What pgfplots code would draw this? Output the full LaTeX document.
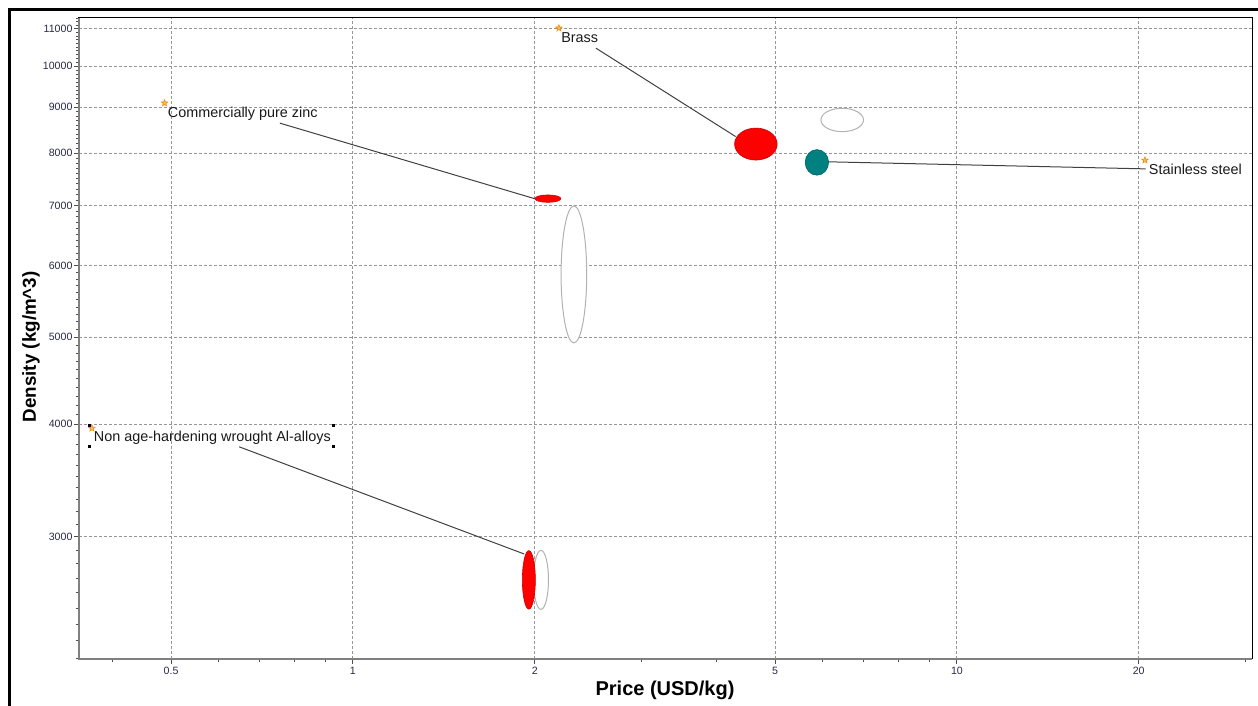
\documentclass[border=0pt]{standalone}
\usepackage{fontspec}
\setmainfont{Liberation Sans}
\usepackage{pgfplots}
\pgfplotsset{compat=1.18}
\definecolor{tickcol}{RGB}{40,40,70}
\definecolor{gridcol}{RGB}{150,150,150}
\definecolor{tealc}{RGB}{0,128,128}
\definecolor{starfill}{RGB}{250,190,90}
\definecolor{stardraw}{RGB}{235,140,20}

\def\rx{3}\def\ry{3}
\pgfdeclareplotmark{ellip}{%
  \pgfpathellipse{\pgfpointorigin}{\pgfqpoint{\rx pt}{0pt}}{\pgfqpoint{0pt}{\ry pt}}%
  \pgfusepathqfillstroke}
\pgfdeclareplotmark{fstar}{%
  \pgfpathmoveto{\pgfpointpolar{90}{\pgfplotmarksize}}%
  \pgfpathlineto{\pgfpointpolar{126}{0.42\pgfplotmarksize}}%
  \pgfpathlineto{\pgfpointpolar{162}{\pgfplotmarksize}}%
  \pgfpathlineto{\pgfpointpolar{198}{0.42\pgfplotmarksize}}%
  \pgfpathlineto{\pgfpointpolar{234}{\pgfplotmarksize}}%
  \pgfpathlineto{\pgfpointpolar{270}{0.42\pgfplotmarksize}}%
  \pgfpathlineto{\pgfpointpolar{306}{\pgfplotmarksize}}%
  \pgfpathlineto{\pgfpointpolar{342}{0.42\pgfplotmarksize}}%
  \pgfpathlineto{\pgfpointpolar{18}{\pgfplotmarksize}}%
  \pgfpathlineto{\pgfpointpolar{54}{0.42\pgfplotmarksize}}%
  \pgfpathclose
  \pgfusepathqfillstroke}
\pgfplotsset{
  grayell/.style 2 args={only marks, mark=ellip, mark options={/utils/exec={\def\rx{#1}\def\ry{#2}}, draw=black!30, fill=white, line width=0.5pt}},
  redell/.style 2 args={only marks, mark=ellip, mark options={/utils/exec={\def\rx{#1}\def\ry{#2}}, draw=red!80!black, fill=red, line width=0.3pt}},
  tealell/.style 2 args={only marks, mark=ellip, mark options={/utils/exec={\def\rx{#1}\def\ry{#2}}, draw=tealc!80!black, fill=tealc, line width=0.3pt}},
}

\begin{document}
\begin{tikzpicture}
\useasboundingbox (-39.5pt,-23.5pt) rectangle (589.5pt,329.5pt);
\begin{axis}[
  at={(0,0)}, anchor=south west,
  scale only axis, width=586.5pt, height=320.5pt,
  xmode=log, ymode=log,
  xmin=0.352, xmax=30.8, ymin=2195, ymax=11310,
  xtick={0.5,1,2,5,10,20}, xticklabels={0.5,1,2,5,10,20},
  minor xtick={0.4,0.6,0.7,0.8,0.9,3,4,6,7,8,9,30},
  ytick={3000,4000,5000,6000,7000,8000,9000,10000,11000},
  yticklabels={3000,4000,5000,6000,7000,8000,9000,10000,11000},
  minor ytick={2200,2300,...,11300},
  xtick pos=bottom, ytick pos=left,
  tick align=outside,
  major tick length=2.5pt, minor tick length=1.4pt,
  tick style={draw=black!70, line width=0.45pt},
  xmajorgrids, ymajorgrids,
  grid style={draw=gridcol, line width=0.5pt, dash pattern=on 1.5pt off 1pt},
  axis line style={draw=black, line width=0.5pt},
  ticklabel style={font=\fontsize{5.3}{6}\selectfont, text=tickcol},
  yticklabel style={inner sep=0.6pt},
  xticklabel style={inner sep=1.2pt},
  xlabel={Price (USD/kg)},
  ylabel={Density (kg/m\textasciicircum 3)},
  xlabel style={at={(axis description cs:0.4996,-0.0484)}, anchor=center, font=\fontsize{10}{12}\selectfont\bfseries},
  ylabel style={at={(axis description cs:-0.0409,0.487)}, anchor=center, font=\fontsize{9.4}{11}\selectfont\bfseries},
  clip=false,
]
% gray (unselected) ranges: centre (price, density); radii in pt
\addplot[grayell={3.75}{14.75}] coordinates {(2.048,2687)};
\addplot[grayell={6.4}{34.25}] coordinates {(2.322,5869)};
\addplot[grayell={10.65}{5.85}] coordinates {(6.458,8713)};
% red ranges
\addplot[redell={3.25}{14.65}] coordinates {(1.956,2687)};
\addplot[redell={6.5}{1.85}] coordinates {(2.103,7125)};
\addplot[redell={10.65}{8.0}] coordinates {(4.647,8192)};
% teal range
\addplot[tealell={5.85}{6.4}] coordinates {(5.864,7818)};

% leader lines
\addplot[draw=black!75, line width=0.5pt, no marks] coordinates {(0.757,8642) (2.005,7120)};
\addplot[draw=black!75, line width=0.5pt, no marks] coordinates {(2.525,10470) (4.301,8351)};
\addplot[draw=black!75, line width=0.5pt, no marks] coordinates {(20.53,7689) (6.122,7829)};
\addplot[draw=black!75, line width=0.5pt, no marks] coordinates {(0.6482,3777) (1.921,2871)};

% label anchor stars
\addplot[only marks, mark=fstar, mark size=1.7pt, mark options={fill=starfill, draw=stardraw, line width=0.3pt}]
  coordinates {(0.4877,9097) (2.193,11020) (20.48,7861) (0.3697,3960)};

\node[anchor=base west, inner sep=0pt, font=\fontsize{7.2}{8.6}\selectfont, text=black!90, xshift=1.5pt, yshift=-7pt] at (axis cs:0.4877,9097) {Commercially pure zinc};
\node[anchor=base west, inner sep=0pt, font=\fontsize{7.2}{8.6}\selectfont, text=black!90, xshift=1.0pt, yshift=-7pt] at (axis cs:2.193,11020) {Brass};
\node[anchor=base west, inner sep=0pt, font=\fontsize{7.2}{8.6}\selectfont, text=black!90, xshift=1.8pt, yshift=-7pt] at (axis cs:20.48,7861) {Stainless steel};
\node[anchor=base west, inner sep=0pt, font=\fontsize{7.2}{8.6}\selectfont, text=black!90, xshift=0.8pt, yshift=-6.7pt] (al) at (axis cs:0.3697,3960) {Non age-hardening wrought Al-alloys};
% left and bottom axis lines in gray
\draw[draw=black!50, line width=0.7pt] (rel axis cs:0,1) -- (rel axis cs:0,0) -- (rel axis cs:1,0);
\end{axis}
% selection handles around the Al label
\fill[black] ([shift={(-2.6pt,7.6pt)}]al.base west) rectangle ++(1.5pt,1.5pt);
\fill[black] ([shift={(-2.6pt,-2.9pt)}]al.base west) rectangle ++(1.5pt,1.5pt);
\fill[black] ([shift={(0.3pt,7.6pt)}]al.base east) rectangle ++(1.5pt,1.5pt);
\fill[black] ([shift={(0.3pt,-2.9pt)}]al.base east) rectangle ++(1.5pt,1.5pt);
% outer frame
\draw[black, line width=1.35pt] (-34.65pt,-23.5pt) -- (-34.65pt,324.65pt) -- (589.5pt,324.65pt);
\end{tikzpicture}
\end{document}
